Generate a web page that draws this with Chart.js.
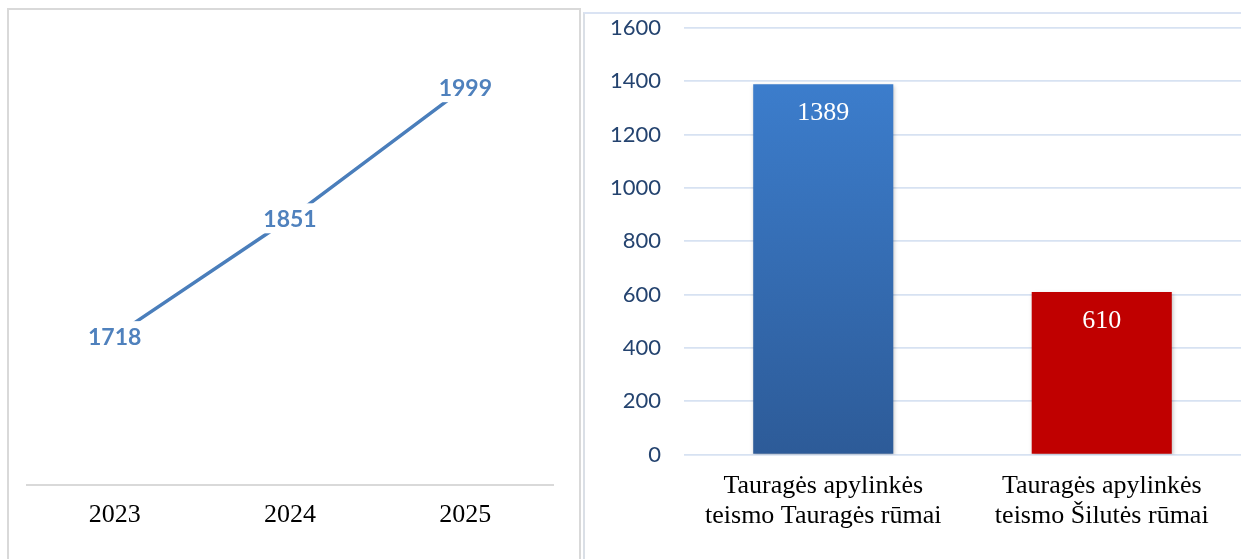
<!DOCTYPE html>
<html>
<head>
<meta charset="utf-8">
<script src="https://cdn.jsdelivr.net/npm/chart.js@4/dist/chart.umd.min.js"></script>
<style>
  body { margin: 0; background: #fff; width: 1241px; height: 559px; overflow: hidden; position: relative; }
  #left_box { position: absolute; left: 7px; top: 8px; width: 574px; height: 560px; border: 2px solid #d9d9d9; border-bottom: none; box-sizing: border-box; }
  #right_box { position: absolute; left: 583px; top: 12px; width: 670px; height: 560px; border-left: 2px solid #dadfe6; border-top: 2px solid #dae3f3; box-sizing: border-box; }
  canvas { position: absolute; top: 0; }
  #cases_trend { left: 0; }
  #court_split { left: 583px; }
</style>
</head>
<body>
<div id="left_box"></div>
<div id="right_box"></div>
<canvas id="cases_trend" width="583" height="559"></canvas>
<canvas id="court_split" width="658" height="559"></canvas>
<script>
const years = ['2023', '2024', '2025'];
const case_counts = [1718, 1851, 1999];

const courts = [
    ['Tauragės apylinkės', 'teismo Tauragės rūmai'],
    ['Tauragės apylinkės', 'teismo Šilutės rūmai']
];
const court_counts = [1389, 610];

// labels on the line sit on a white patch, so the line breaks around them
const line_labels = {
    id: 'line_labels',
    afterDatasetsDraw(chart) {
        const ctx = chart.ctx;
        const meta = chart.getDatasetMeta(0);
        ctx.save();
        ctx.font = 'bold 23px Lato';
        ctx.textAlign = 'center';
        ctx.textBaseline = 'middle';
        meta.data.forEach((pt, i) => {
            const text = String(chart.data.datasets[0].data[i]);
            const w = ctx.measureText(text).width + 10;
            ctx.fillStyle = '#fff';
            ctx.fillRect(pt.x - w / 2, pt.y - 15, w, 30);
            ctx.fillStyle = '#4f81bd';
            ctx.fillText(text, pt.x, pt.y + 1);
        });
        ctx.restore();
    }
};

const bar_labels = {
    id: 'bar_labels',
    beforeDatasetsDraw(chart) {
        const ctx = chart.ctx;
        ctx.save();
        ctx.shadowColor = 'rgba(0,0,0,0.25)';
        ctx.shadowBlur = 4;
        ctx.shadowOffsetX = 1;
        ctx.shadowOffsetY = 2;
    },
    afterDatasetsDraw(chart) {
        const ctx = chart.ctx;
        ctx.restore();
        const meta = chart.getDatasetMeta(0);
        ctx.save();
        ctx.font = '26px "Liberation Serif"';
        ctx.textAlign = 'center';
        ctx.textBaseline = 'middle';
        ctx.fillStyle = '#fff';
        meta.data.forEach((bar, i) => {
            ctx.fillText(String(chart.data.datasets[0].data[i]), bar.x, bar.y + 29);
        });
        ctx.restore();
    }
};

function load_trend() {
    const canvas = document.getElementById('cases_trend');
    const line_config = {
        type: 'line',
        data: {
            labels: years,
            datasets: [{
                data: case_counts,
                borderColor: '#4a7ebb',
                borderWidth: 3.5,
                pointRadius: 0,
                tension: 0,
                fill: false
            }]
        },
        options: {
            responsive: false,
            animation: false,
            layout: { padding: { left: 27, right: 30, top: 42, bottom: 0 } },
            plugins: { legend: { display: false }, tooltip: { enabled: false } },
            scales: {
                x: {
                    offset: true,
                    grid: { display: false, drawTicks: false },
                    border: { display: true, color: '#d9d9d9', width: 2 },
                    ticks: { color: '#000', padding: 15, font: { family: '"Liberation Serif"', size: 26 } },
                    afterFit: scale => { scale.height = 74; }
                },
                y: {
                    display: false,
                    min: 1550,
                    max: 2050
                }
            }
        },
        plugins: [line_labels]
    };
    new Chart(canvas, line_config);
}

function load_courts() {
    const canvas = document.getElementById('court_split');
    const bar_config = {
        type: 'bar',
        data: {
            labels: courts,
            datasets: [{
                data: court_counts,
                backgroundColor: context => {
                    if (context.dataIndex === 1) return '#c00000';
                    const { ctx, chartArea } = context.chart;
                    if (!chartArea) return '#3a72bd';
                    const g = ctx.createLinearGradient(0, chartArea.top + 56, 0, chartArea.bottom);
                    g.addColorStop(0, '#3c7dcc');
                    g.addColorStop(1, '#2d5b98');
                    return g;
                },
                categoryPercentage: 1,
                barPercentage: 0.503
            }]
        },
        options: {
            responsive: false,
            animation: false,
            layout: { padding: { left: 0, right: 0, top: 28, bottom: 0 } },
            plugins: { legend: { display: false }, tooltip: { enabled: false } },
            scales: {
                x: {
                    grid: { display: false, drawTicks: false },
                    border: { display: false },
                    ticks: { color: '#000', padding: 17, font: { family: '"Liberation Serif"', size: 26, lineHeight: 1.154 } },
                    afterFit: scale => {
                        scale.height = 104.5;
                        scale.paddingTop = 0;
                        scale.paddingBottom = 0;
                    }
                },
                y: {
                    min: 0,
                    max: 1600,
                    ticks: { stepSize: 200, color: '#24436f', padding: 23, font: { family: 'Lato', size: 22 }, callback: v => String(v) },
                    grid: { color: '#d7e2f2', lineWidth: 1.7, drawTicks: false },
                    border: { display: false },
                    afterFit: scale => {
                        scale.width = 101;
                        scale.paddingTop = 0;
                        scale.paddingBottom = 0;
                    }
                }
            }
        },
        plugins: [bar_labels]
    };
    new Chart(canvas, bar_config);
}

load_trend();
load_courts();
</script>
</body>
</html>
